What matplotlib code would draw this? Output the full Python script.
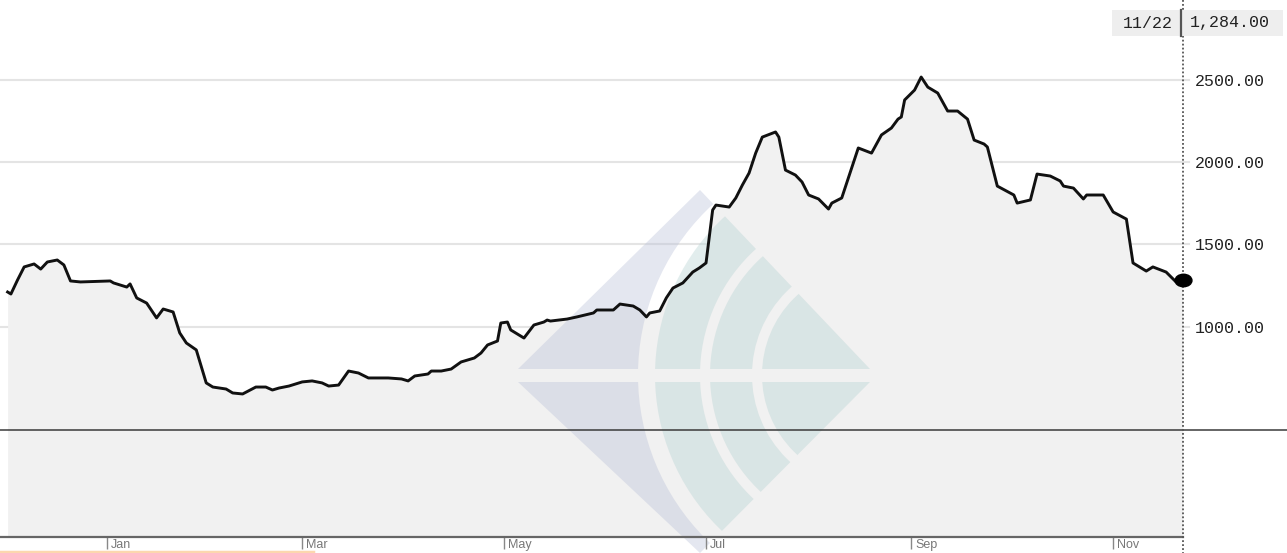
import matplotlib
matplotlib.use("Agg")
import matplotlib.pyplot as plt
import matplotlib.transforms as mtransforms
from matplotlib.markers import MarkerStyle
from matplotlib.patches import Rectangle, Polygon, Wedge
import pandas as pd

# values
dates = [
    "2021-12-02", "2021-12-03", "2021-12-05", "2021-12-07", "2021-12-10", "2021-12-12",
    "2021-12-14", "2021-12-17", "2021-12-19", "2021-12-21", "2021-12-24",
    "2022-01-02", "2022-01-03", "2022-01-07", "2022-01-08", "2022-01-10", "2022-01-13",
    "2022-01-16", "2022-01-18", "2022-01-21", "2022-01-23", "2022-01-25", "2022-01-28", "2022-01-31",
    "2022-02-02", "2022-02-06", "2022-02-08", "2022-02-11", "2022-02-15", "2022-02-18",
    "2022-02-20", "2022-02-22", "2022-02-25",
    "2022-03-01", "2022-03-04", "2022-03-07", "2022-03-09", "2022-03-12", "2022-03-15",
    "2022-03-18", "2022-03-21", "2022-03-25", "2022-03-27", "2022-03-31",
    "2022-04-02", "2022-04-04", "2022-04-08", "2022-04-09", "2022-04-12", "2022-04-15",
    "2022-04-18", "2022-04-22", "2022-04-24", "2022-04-26", "2022-04-29", "2022-04-30",
    "2022-05-02", "2022-05-03", "2022-05-07", "2022-05-10", "2022-05-13", "2022-05-14",
    "2022-05-15", "2022-05-20", "2022-05-23", "2022-05-28", "2022-05-29",
    "2022-06-03", "2022-06-05", "2022-06-09", "2022-06-11", "2022-06-13", "2022-06-14",
    "2022-06-17", "2022-06-19", "2022-06-21", "2022-06-24", "2022-06-27", "2022-06-29",
    "2022-07-01", "2022-07-03", "2022-07-04", "2022-07-08", "2022-07-10", "2022-07-12",
    "2022-07-14", "2022-07-16", "2022-07-18", "2022-07-22", "2022-07-23", "2022-07-25",
    "2022-07-28", "2022-07-30",
    "2022-08-01", "2022-08-04", "2022-08-07", "2022-08-08", "2022-08-11", "2022-08-16",
    "2022-08-20", "2022-08-23", "2022-08-26", "2022-08-28", "2022-08-29", "2022-08-30",
    "2022-09-02", "2022-09-04", "2022-09-06", "2022-09-09", "2022-09-12", "2022-09-15",
    "2022-09-18", "2022-09-20", "2022-09-23", "2022-09-24", "2022-09-27",
    "2022-10-02", "2022-10-03", "2022-10-07", "2022-10-09", "2022-10-13", "2022-10-16",
    "2022-10-17", "2022-10-20", "2022-10-23", "2022-10-24", "2022-10-29",
    "2022-11-01", "2022-11-05", "2022-11-07", "2022-11-11", "2022-11-13", "2022-11-17",
    "2022-11-20", "2022-11-22",
]
values = [
    1212, 1200, 1285, 1364, 1382, 1351, 1394, 1406, 1376, 1279, 1273,
    1279, 1267, 1242, 1261, 1176, 1145, 1055, 1109, 1091, 964, 903, 861, 661,
    636, 624, 600, 594, 636, 636, 618, 630, 642,
    667, 673, 661, 642, 648, 733, 721, 691, 691, 691, 685,
    673, 703, 715, 733, 733, 745, 788, 812, 842, 891, 915, 1024,
    1030, 982, 933, 1012, 1030, 1042, 1036, 1048, 1061, 1085, 1103,
    1103, 1139, 1127, 1103, 1061, 1085, 1097, 1176, 1236, 1267, 1333, 1358,
    1388, 1709, 1739, 1727, 1782, 1861, 1933, 2054, 2151, 2182, 2151, 1951, 1921, 1879,
    1800, 1776, 1715, 1751, 1782, 2085, 2054, 2164, 2206, 2260, 2273, 2376,
    2436, 2515, 2454, 2418, 2309, 2309, 2260, 2133, 2109, 2091, 1854,
    1800, 1751, 1770, 1927, 1915, 1885, 1854, 1842, 1776, 1800, 1800,
    1697, 1654, 1388, 1339, 1364, 1333, 1273, 1284,
]
y_ticks = [1000, 1500, 2000, 2500]
month_ticks = ["2022-01-01", "2022-03-01", "2022-05-01", "2022-07-01", "2022-09-01", "2022-11-01"]
month_labels = ["Jan", "Mar", "May", "Jul", "Sep", "Nov"]
ref_level = 376
last_date_label = "11/22"
last_value_label = "1,284.00"

W, H = 1287, 553
x = pd.to_datetime(dates)
ymin, ymax = -273, 2982

fig = plt.figure(figsize=(W / 100, H / 100), dpi=100)
ax = fig.add_axes([0, 16 / H, 1183 / W, 537 / H])
ax.set_ylim(ymin, ymax)
jan1 = pd.Timestamp("2022-01-01")
ax.set_xlim(jan1 - pd.Timedelta(days=32.3), jan1 + pd.Timedelta(days=325.1))

for s in ["top", "left", "right"]:
    ax.spines[s].set_visible(False)
ax.spines["bottom"].set_color("#666666")
ax.spines["bottom"].set_linewidth(1.6)

# fill under the series
ax.fill_between(x, values, ymin, color="#f1f1f1", lw=0, zorder=1)

# grid lines (run a bit past the right edge)
blend = mtransforms.blended_transform_factory(ax.transAxes, ax.transData)
for v in y_ticks:
    ax.plot([0, 1.005], [v, v], color="#e4e4e4", lw=1.5, transform=blend, clip_on=False, zorder=0.8)
ax.plot([0, W / 1183], [ref_level, ref_level], color="#3a3a3a", lw=1.1,
        transform=blend, clip_on=False, zorder=2.5)

# watermark logo (pixel coordinates, origin top-left)
px = mtransforms.Affine2D().scale(1, -1).translate(0, H)
cx, cy = 870, 375
top_half = Polygon([(518, 369), (700, 190), (870, 369)], closed=True, transform=px)
bot_half = Polygon([(518, 382), (870, 382), (700, 553)], closed=True, transform=px)
bands = [(232, 420, "#b9c0d8"), (170, 215, "#b4d2d2"), (118, 160, "#b4d2d2"), (0, 108, "#b4d2d2")]
for clip in (top_half, bot_half):
    for r0, r1, col in bands:
        wdg = Wedge((cx, cy), r1, 90, 270, width=r1 - r0, transform=px,
                    facecolor=col, alpha=0.38, lw=0, zorder=1.5)
        ax.add_patch(wdg)
        wdg.set_clip_box(None)
        wdg.set_clip_path(clip)

# dotted right border, extending below the axis
ax.add_line(plt.Line2D([1183, 1183], [0, H], transform=px, color="#555555", lw=1.3,
                       ls=(0, (1, 1.2)), clip_on=False, zorder=3.2))

# the series
ax.plot(x, values, color="#111111", lw=2.1, zorder=3, solid_joinstyle="round")
ax.plot([x[-1]], [values[-1]], marker=MarkerStyle("o", transform=mtransforms.Affine2D().scale(1.35, 1)),
        ms=9, color="#000000", clip_on=False, zorder=4)

# right axis labels
ax.yaxis.tick_right()
ax.set_yticks(y_ticks)
ax.set_yticklabels(["%.2f" % v for v in y_ticks], family="Liberation Mono", fontsize=12, color="#222222")
ax.tick_params(axis="y", length=0, pad=8.5)

# month ticks
ax.set_xticks(pd.to_datetime(month_ticks))
ax.set_xticklabels(month_labels, family="Liberation Sans", fontsize=9, color="#777777", ha="left")
ax.tick_params(axis="x", length=8.5, width=1, color="#888888", pad=-7, direction="out")
for lbl in ax.get_xticklabels():
    lbl.set_transform(lbl.get_transform() + mtransforms.ScaledTranslation(4 / 100, 0, fig.dpi_scale_trans))

# last value box
fig.add_artist(Rectangle((1112, 10), 171, 26, transform=px, facecolor="#eeeeee", lw=0))
fig.add_artist(plt.Line2D([1181, 1181], [10, 36], transform=px, color="#555555", lw=1.6))
fig.text(1173 / W, 1 - 23 / H, last_date_label, ha="right", va="center",
         family="Liberation Mono", fontsize=12, color="#222222")
fig.text(1190 / W, 1 - 23 / H, last_value_label, ha="left", va="center",
         family="Liberation Mono", fontsize=12, color="#222222")

# faint strip at the bottom left
fig.add_artist(plt.Line2D([0, 313], [551.5, 551.5], transform=px, color="#fcd7ae", lw=2.5))

fig.savefig("out.png", dpi=100)
